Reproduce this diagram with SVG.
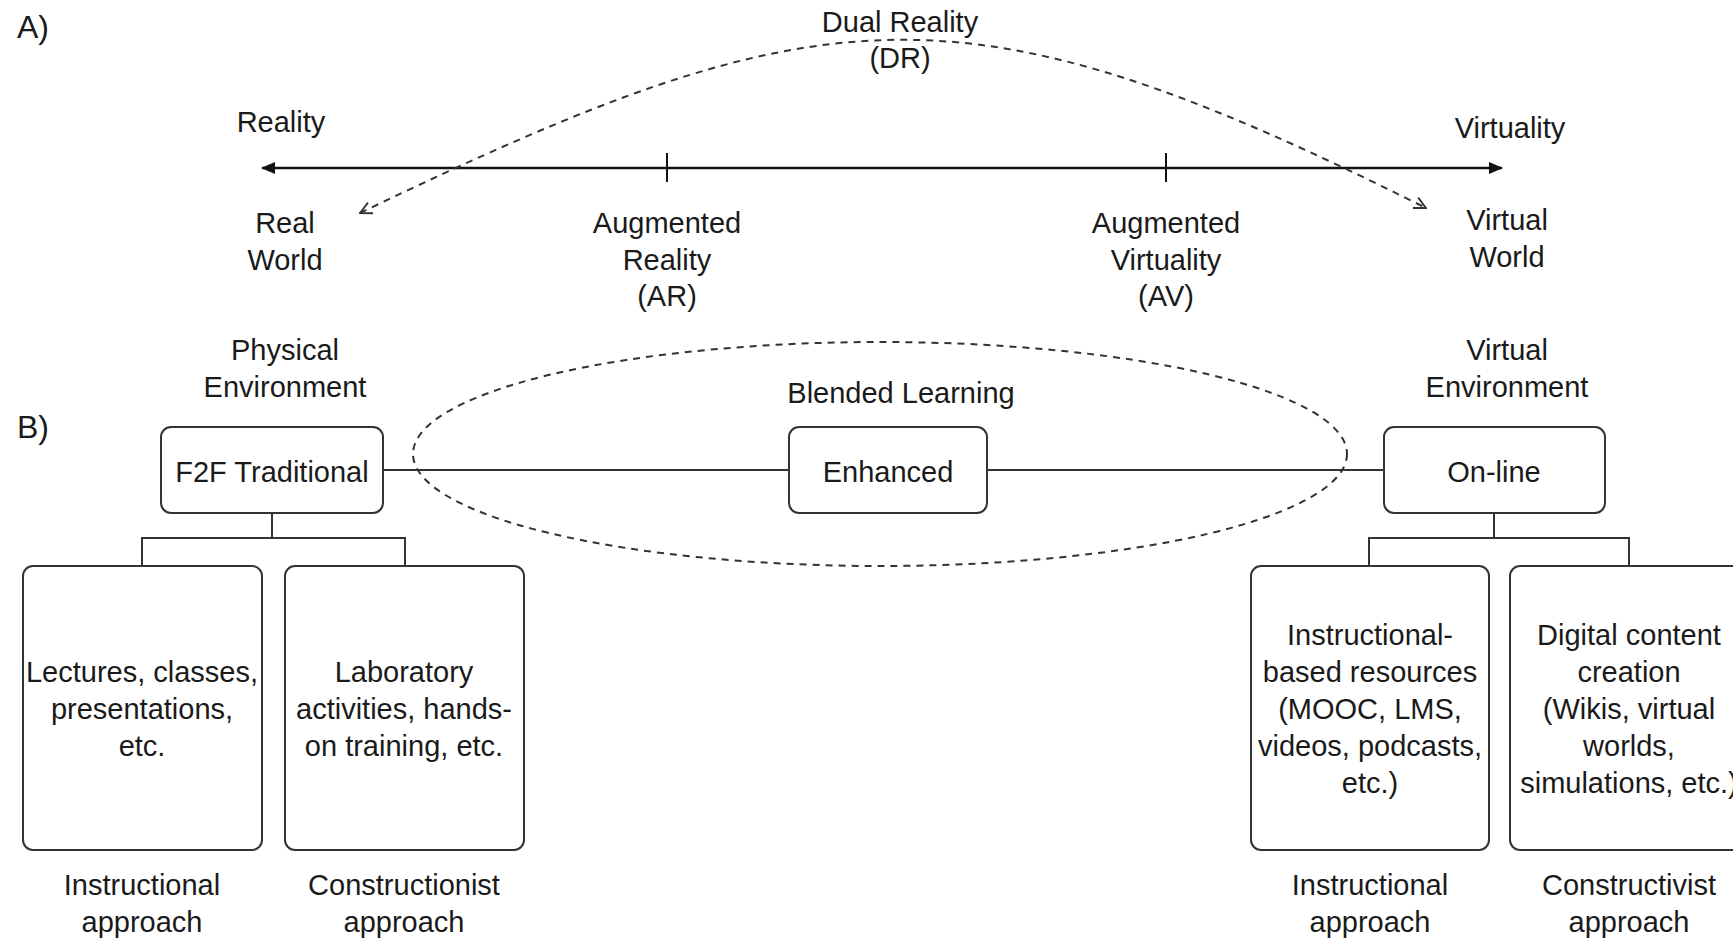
<svg xmlns="http://www.w3.org/2000/svg" width="1733" height="939" viewBox="0 0 1733 939">
<style>
text{font-family:"Liberation Sans",Arial,sans-serif;font-size:29px;fill:#1a1a1a;text-anchor:middle}
.lbl{font-size:32px;text-anchor:start}
.box{fill:#fff;stroke:#333;stroke-width:2}
.ln{stroke:#333;stroke-width:2;fill:none}
.dash{stroke:#333;stroke-width:2;fill:none;stroke-dasharray:7 6}
</style>
<defs>
<marker id="solid" markerUnits="userSpaceOnUse" markerWidth="14" markerHeight="14" viewBox="0 0 14 12" refX="13" refY="6" orient="auto-start-reverse"><path d="M0,0 L14,6 L0,12 z" fill="#111"/></marker>
<marker id="open" markerUnits="userSpaceOnUse" markerWidth="14" markerHeight="14" viewBox="0 0 12 12" refX="11" refY="6" orient="auto-start-reverse"><path d="M1,1 L11,6 L1,11" fill="none" stroke="#333" stroke-width="1.6"/></marker>
</defs>
<rect width="1733" height="939" fill="#fff"/>

<g id="labels-A">
<text class="lbl" x="17" y="38">A)</text>
<text x="281" y="132">Reality</text>
<text x="1510" y="138">Virtuality</text>
</g>

<g id="connectors">
<line x1="262" y1="168" x2="1502" y2="168" stroke="#111" stroke-width="2.5" marker-start="url(#solid)" marker-end="url(#solid)"/>
<line x1="667" y1="153" x2="667" y2="182" stroke="#111" stroke-width="2"/>
<line x1="1166" y1="153" x2="1166" y2="182" stroke="#111" stroke-width="2"/>
<path class="dash" d="M360,213 C824,-10 962,-24 1426,208" marker-start="url(#open)" marker-end="url(#open)"/>
<line class="ln" x1="383" y1="470" x2="789" y2="470"/>
<line class="ln" x1="987" y1="470" x2="1384" y2="470"/>
<path class="ln" d="M272,513 V538 M142,566 V538 H405 V566"/>
<path class="ln" d="M1494,513 V538 M1369,566 V538 H1629 V566"/>
</g>

<g id="dual-reality">
<text x="900" y="32">Dual Reality</text>
<text x="900" y="68">(DR)</text>
</g>
<g id="real-world">
<text x="285" y="233">Real</text>
<text x="285" y="270">World</text>
</g>
<g id="augmented-reality">
<text x="667" y="233">Augmented</text>
<text x="667" y="270">Reality</text>
<text x="667" y="306">(AR)</text>
</g>
<g id="augmented-virtuality">
<text x="1166" y="233">Augmented</text>
<text x="1166" y="270">Virtuality</text>
<text x="1166" y="306">(AV)</text>
</g>
<g id="virtual-world">
<text x="1507" y="230">Virtual</text>
<text x="1507" y="267">World</text>
</g>

<g id="labels-B">
<text class="lbl" x="17" y="438">B)</text>
<text x="285" y="360">Physical</text>
<text x="285" y="397">Environment</text>
<text x="1507" y="360">Virtual</text>
<text x="1507" y="397">Environment</text>
</g>

<g id="blended-learning">
<ellipse class="dash" cx="880" cy="454" rx="467" ry="112"/>
<text x="901" y="403">Blended Learning</text>
</g>

<g id="f2f">
<rect class="box" x="161" y="427" width="222" height="86" rx="10"/>
<text x="272" y="482">F2F Traditional</text>
</g>
<g id="enhanced">
<rect class="box" x="789" y="427" width="198" height="86" rx="10"/>
<text x="888" y="482">Enhanced</text>
</g>
<g id="online">
<rect class="box" x="1384" y="427" width="221" height="86" rx="10"/>
<text x="1494" y="482">On-line</text>
</g>

<g id="lectures">
<rect class="box" x="23" y="566" width="239" height="284" rx="10"/>
<text x="142" y="682">Lectures, classes,</text>
<text x="142" y="719">presentations,</text>
<text x="142" y="756">etc.</text>
<text x="142" y="895">Instructional</text>
<text x="142" y="932">approach</text>
</g>
<g id="laboratory">
<rect class="box" x="285" y="566" width="239" height="284" rx="10"/>
<text x="404" y="682">Laboratory</text>
<text x="404" y="719">activities, hands-</text>
<text x="404" y="756">on training, etc.</text>
<text x="404" y="895">Constructionist</text>
<text x="404" y="932">approach</text>
</g>
<g id="instructional-resources">
<rect class="box" x="1251" y="566" width="238" height="284" rx="10"/>
<text x="1370" y="645">Instructional-</text>
<text x="1370" y="682">based resources</text>
<text x="1370" y="719">(MOOC, LMS,</text>
<text x="1370" y="756">videos, podcasts,</text>
<text x="1370" y="793">etc.)</text>
<text x="1370" y="895">Instructional</text>
<text x="1370" y="932">approach</text>
</g>
<g id="digital-content">
<rect class="box" x="1510" y="566" width="238" height="284" rx="10"/>
<text x="1629" y="645">Digital content</text>
<text x="1629" y="682">creation</text>
<text x="1629" y="719">(Wikis, virtual</text>
<text x="1629" y="756">worlds,</text>
<text x="1629" y="793">simulations, etc.)</text>
<text x="1629" y="895">Constructivist</text>
<text x="1629" y="932">approach</text>
</g>
</svg>
